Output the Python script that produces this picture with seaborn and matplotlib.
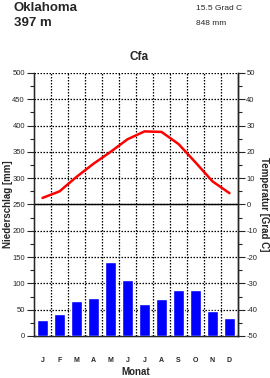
import numpy as np
import pandas as pd
import matplotlib
matplotlib.use("Agg")
import matplotlib.pyplot as plt
import seaborn as sns
from matplotlib.ticker import MultipleLocator, FixedLocator

# climate data Oklahoma
months = ["J", "F", "M", "A", "M", "J", "J", "A", "S", "O", "N", "D"]
niederschlag = [30, 41, 66, 73, 141, 107, 60, 71, 88, 88, 48, 35]
temperatur = [2.5, 5.0, 10.5, 15.5, 20.0, 24.8, 27.8, 27.6, 23.0, 16.0, 8.8, 4.3]

df = pd.DataFrame({"idx": range(12), "mm": niederschlag, "temp": temperatur})

sns.set_style("white")
plt.rcParams["font.family"] = ["Liberation Sans", "DejaVu Sans"]
plt.rcParams["axes.unicode_minus"] = False

fig = plt.figure(figsize=(2.7, 3.78), dpi=100)
ax = fig.add_axes([34/270, 42/378, 204/270, 263/378])

sns.barplot(data=df, x="idx", y="mm", color="#0000ff", saturation=1,
            width=0.65, ax=ax, zorder=3)
ax.set_xlim(-0.5, 11.5)
ax.set_ylim(0, 500)
ax.yaxis.set_major_locator(MultipleLocator(50))
ax.yaxis.set_minor_locator(MultipleLocator(25))
ax.xaxis.set_major_locator(FixedLocator(range(12)))
ax.set_xticklabels(months, fontweight="bold")
ax.xaxis.set_minor_locator(FixedLocator(np.arange(0.5, 11.5, 1)))
dots = (0, (1.2, 1.2))
ax.grid(True, which="major", axis="y", ls=dots, color="black", lw=0.9)
ax.grid(True, which="minor", axis="x", ls=dots, color="black", lw=0.9)
ax.set_axisbelow(True)
ax.axhline(250, color="black", lw=1, zorder=4)
ax.tick_params(axis="y", which="major", length=5, width=0.8, labelsize=5.5, pad=1.5, left=True)
ax.tick_params(axis="y", which="minor", length=3, width=0.8, left=True)
ax.tick_params(axis="x", which="both", length=0, labelsize=5, pad=15)
for s in ["left", "bottom", "right"]:
    ax.spines[s].set_color("black")
    ax.spines[s].set_linewidth(1)
ax.spines["top"].set_visible(False)
ax.set_xlabel("")
ax.set_ylabel("")

ax2 = ax.twinx()
sns.lineplot(data=df, x="idx", y="temp", color="#ff0000", lw=1.8, ax=ax2, zorder=5)
ax2.set_ylim(-50, 50)
ax2.set_xlim(-0.5, 11.5)
ax2.yaxis.set_major_locator(MultipleLocator(10))
ax2.yaxis.set_minor_locator(MultipleLocator(5))
ax2.tick_params(axis="y", which="major", length=5, width=0.8, labelsize=5.5, pad=1, right=True)
ax2.tick_params(axis="y", which="minor", length=3, width=0.8, right=True)
ax2.spines["top"].set_visible(False)
ax2.spines["right"].set_linewidth(1)
ax2.set_ylabel("")
ax2.set_xlabel("")

# axis titles placed like the original
fig.text(8/270, 1 - 204/378, "Niederschlag [mm]", fontsize=7, fontweight="bold",
         rotation=90, ha="center", va="center")
fig.text(264/270, 1 - 204/378, "Temperatur [Grad C]", fontsize=7, fontweight="bold",
         rotation=-90, ha="center", va="center")
fig.text(136/270, 1 - 372/378, "Monat", fontsize=7, fontweight="bold", ha="center", va="center")

fig.text(14/270, 1 - 2/378, "Oklahoma", fontsize=9.5, fontweight="bold", va="top")
fig.text(14/270, 1 - 17/378, "397 m", fontsize=9.5, fontweight="bold", va="top")
fig.text(196/270, 1 - 5/378, "15.5 Grad C", fontsize=6, va="top")
fig.text(196/270, 1 - 20/378, "848 mm", fontsize=6, va="top")
fig.text(139/270, 1 - 51/378, "Cfa", fontsize=8.5, fontweight="bold", va="top", ha="center")

fig.savefig("out.png", dpi=100)
